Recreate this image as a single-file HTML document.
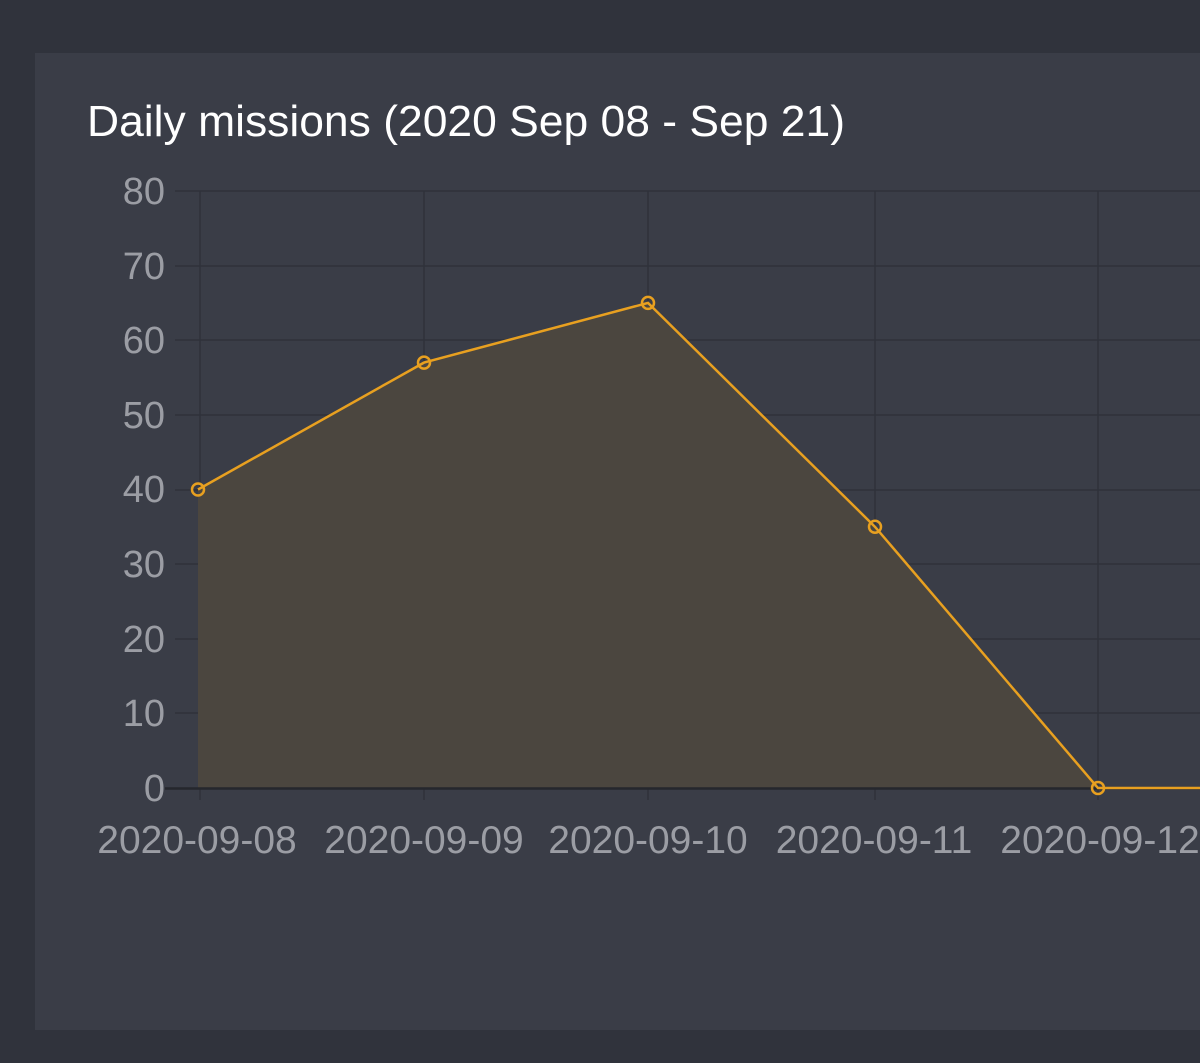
<!DOCTYPE html>
<html><head><style>
html,body{margin:0;padding:0;background:#30333c;width:1200px;height:1063px;overflow:hidden;}
</style></head><body>
<svg width="1200" height="1063" xmlns="http://www.w3.org/2000/svg" style="display:block">
<rect x="0" y="0" width="1200" height="1063" fill="#30333c"/>
<rect x="35" y="53" width="1180" height="977" fill="#3a3d47"/>
<text x="87" y="136" font-family="Liberation Sans, sans-serif" font-size="44" fill="#ffffff" textLength="758" lengthAdjust="spacingAndGlyphs">Daily missions (2020 Sep 08 - Sep 21)</text>
<g stroke="#2f323a" stroke-width="1.5">
<line x1="175" y1="191" x2="1200" y2="191"/>
<line x1="175" y1="266" x2="1200" y2="266"/>
<line x1="175" y1="340" x2="1200" y2="340"/>
<line x1="175" y1="415" x2="1200" y2="415"/>
<line x1="175" y1="490" x2="1200" y2="490"/>
<line x1="175" y1="564" x2="1200" y2="564"/>
<line x1="175" y1="639" x2="1200" y2="639"/>
<line x1="175" y1="713" x2="1200" y2="713"/>
<line x1="200" y1="191" x2="200" y2="800"/>
<line x1="424" y1="191" x2="424" y2="800"/>
<line x1="648" y1="191" x2="648" y2="800"/>
<line x1="875" y1="191" x2="875" y2="800"/>
<line x1="1098" y1="191" x2="1098" y2="800"/>
</g>
<polygon points="198,489.5 424,362.6 648,302.9 875,526.8 1098,788 1200,788 1200,788 198,788" fill="#4b463f"/>
<line x1="165" y1="788.5" x2="1200" y2="788.5" stroke="#25272d" stroke-width="2.5"/>
<polyline points="198,489.5 424,362.6 648,302.9 875,526.8 1098,788 1200,788" fill="none" stroke="#e8a020" stroke-width="2.5"/>
<g fill="none" stroke="#e8a020" stroke-width="2.5">
<circle cx="198" cy="489.5" r="6"/><circle cx="424" cy="362.6" r="6"/><circle cx="648" cy="302.9" r="6"/><circle cx="875" cy="526.8" r="6"/><circle cx="1098" cy="788" r="6"/>
</g>
<g font-family="Liberation Sans, sans-serif" font-size="38" fill="#9b9da4" text-anchor="end">
<text x="165" y="204">80</text><text x="165" y="279">70</text><text x="165" y="353">60</text><text x="165" y="428">50</text><text x="165" y="502">40</text><text x="165" y="577">30</text><text x="165" y="652">20</text><text x="165" y="726">10</text><text x="165" y="801">0</text>
</g>
<g font-family="Liberation Sans, sans-serif" font-size="39" fill="#9b9da4" text-anchor="middle">
<text x="197" y="853">2020-09-08</text><text x="424" y="853">2020-09-09</text><text x="648" y="853">2020-09-10</text><text x="874" y="853">2020-09-11</text><text x="1100" y="853">2020-09-12</text>
</g>
</svg>
</body></html>
